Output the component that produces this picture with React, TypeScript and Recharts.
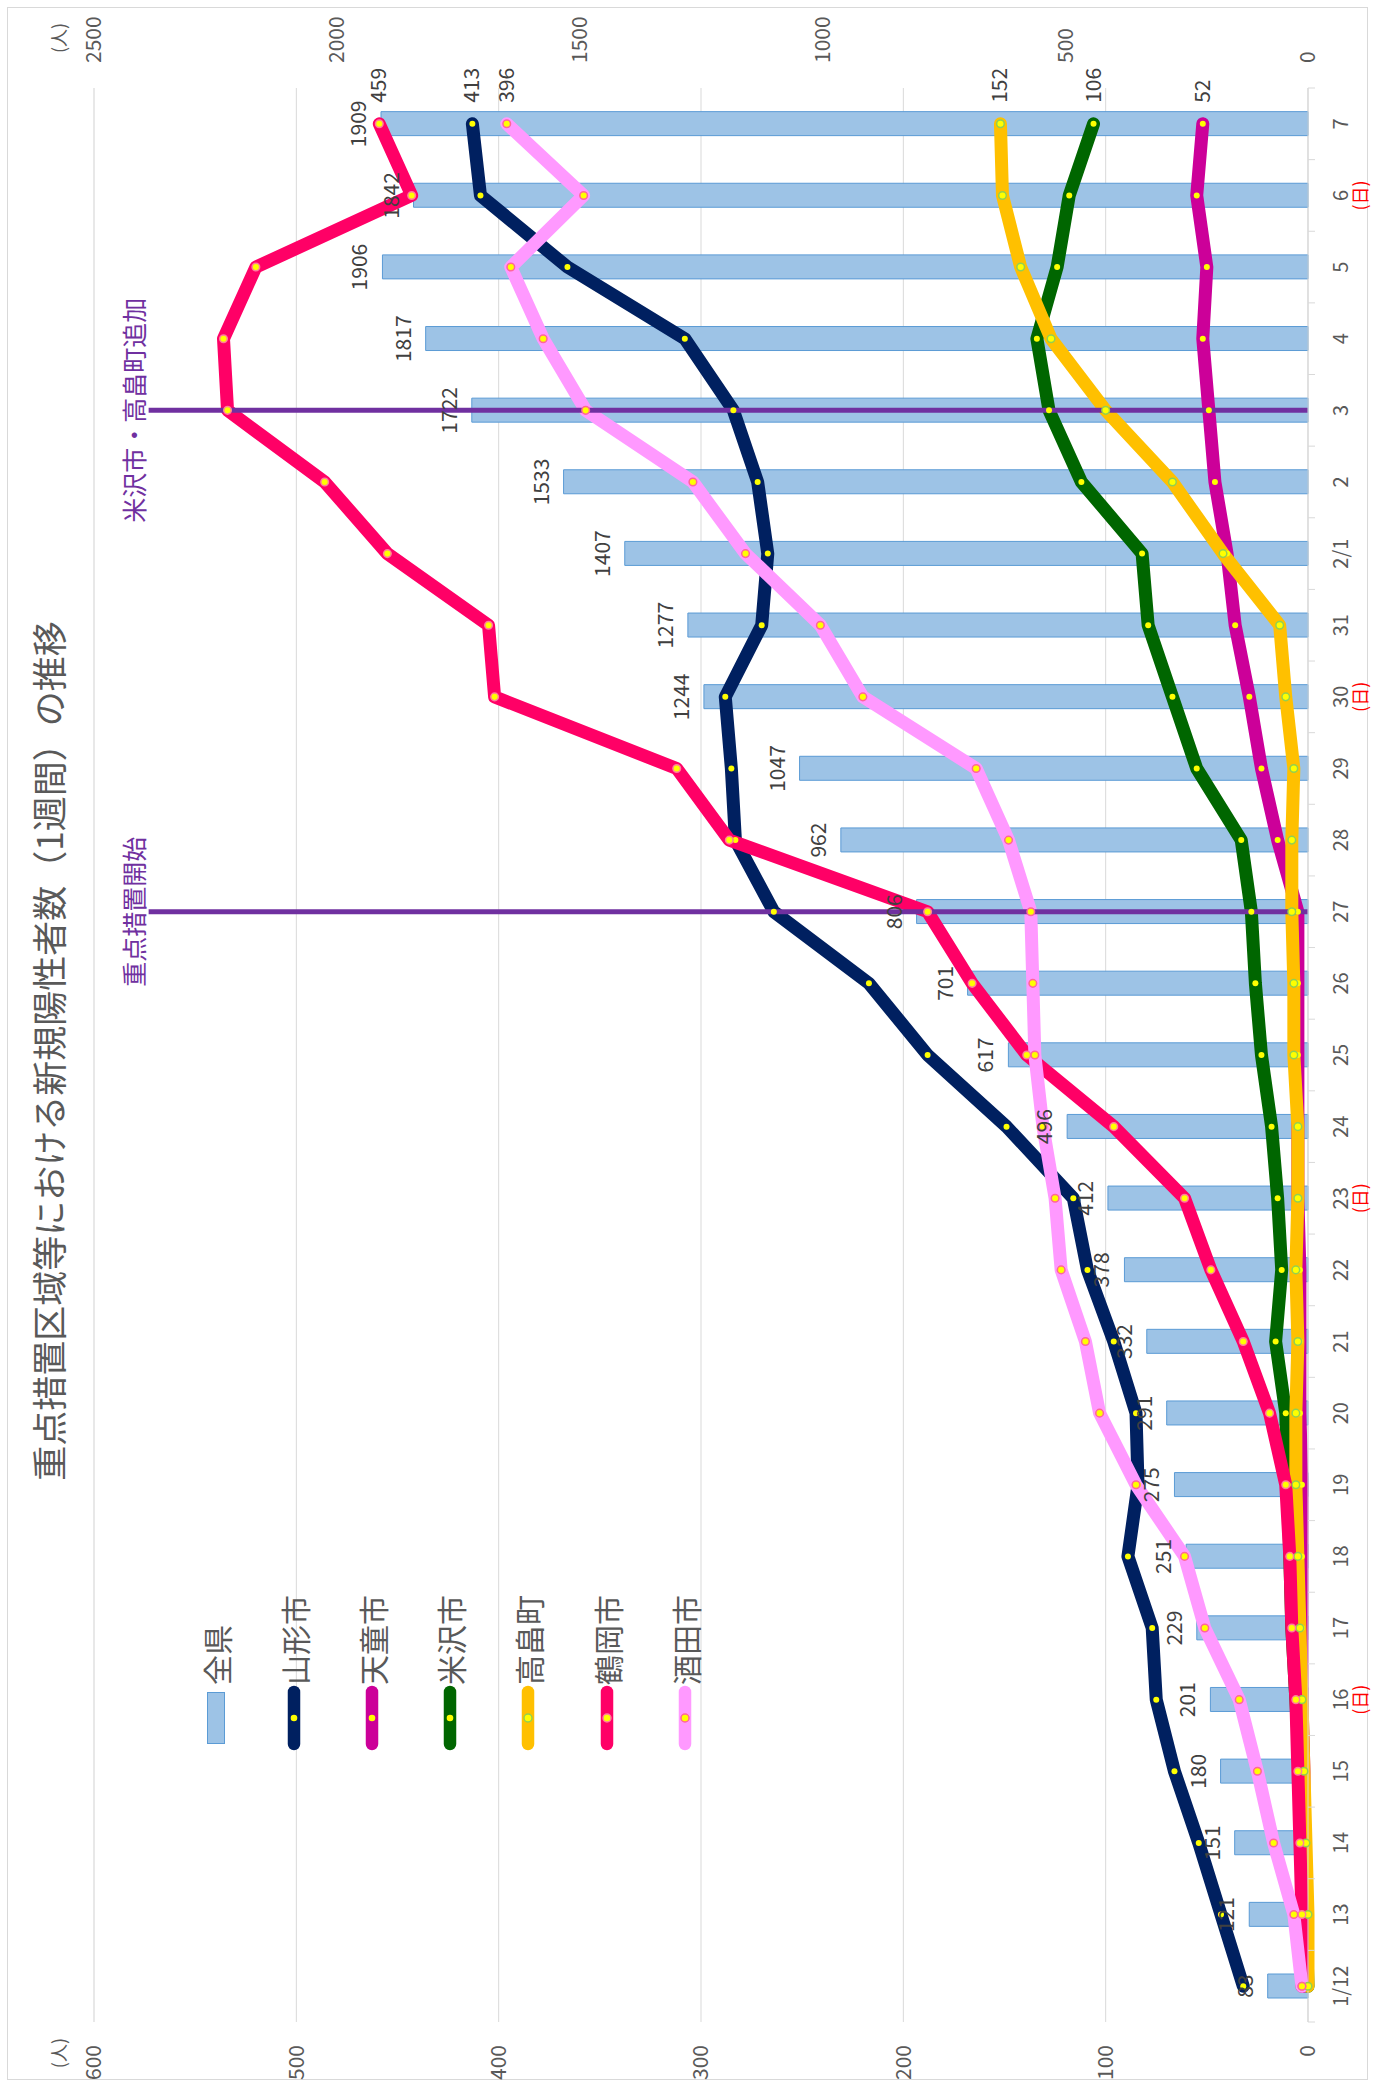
import React from 'react';
import {
  ComposedChart,
  Bar,
  Line,
  XAxis,
  YAxis,
  CartesianGrid,
  ReferenceLine,
  LabelList,
  Legend,
} from 'recharts';

// ---------- data ----------
const dates = ['1/12', '13', '14', '15', '16', '17', '18', '19', '20', '21', '22', '23', '24', '25', '26', '27', '28', '29', '30', '31', '2/1', '2', '3', '4', '5', '6', '7'];
const sundays = ['16', '23', '30', '6'];
const zenken = [83, 121, 151, 180, 201, 229, 251, 275, 291, 332, 378, 412, 496, 617, 701, 806, 962, 1047, 1244, 1277, 1407, 1533, 1722, 1817, 1906, 1842, 1909];
const yamagata = [32, 43, 54, 66, 75, 77, 89, 84, 85, 96, 109, 116, 149, 188, 217, 264, 283, 285, 288, 270, 267, 272, 284, 308, 366, 409, 413];
const tendo = [2, 2, 2, 2, 3, 3, 3, 3, 4, 4, 4, 5, 5, 5, 5, 5, 15, 23, 29, 36, 40, 46, 49, 52, 50, 55, 52];
const yonezawa = [0, 1, 2, 4, 6, 8, 9, 10, 11, 16, 13, 15, 18, 23, 26, 28, 33, 55, 67, 79, 82, 112, 128, 134, 124, 118, 106];
const takahata = [0, 0, 1, 2, 3, 4, 5, 6, 6, 5, 6, 5, 5, 7, 7, 8, 8, 7, 11, 14, 42, 67, 100, 127, 142, 151, 152];
const tsuruoka = [3, 3, 4, 5, 6, 8, 9, 11, 19, 32, 48, 61, 96, 139, 166, 188, 286, 312, 402, 405, 455, 486, 534, 536, 520, 443, 459];
const sakata = [3, 7, 17, 25, 34, 51, 61, 85, 103, 110, 122, 125, 131, 135, 136, 137, 148, 164, 220, 241, 278, 304, 357, 378, 394, 358, 396];

const leftTicks = [0, 100, 200, 300, 400, 500, 600];
const minorTicks = [0, 20, 40, 60, 80, 100, 120, 140, 160, 180, 200, 220, 240, 260, 280, 300, 320, 340, 360, 380, 400, 420, 440, 460, 480, 500, 520, 540, 560, 580, 600];
const rightTicks = [0, 500, 1000, 1500, 2000, 2500];

const title = '重点措置区域等における新規陽性者数（1週間）の推移';
const refStart = { date: '27', top: 573, text: '重点措置開始' };
const refAdd = { date: '3', top: 573, text: '米沢市・高畠町追加' };

const lineSeries = [
  { key: 'yamagata', name: '山形市', color: '#002060', ring: '', values: yamagata },
  { key: 'tendo', name: '天童市', color: '#CC0099', ring: '', values: tendo },
  { key: 'yonezawa', name: '米沢市', color: '#006600', ring: '', values: yonezawa },
  { key: 'takahata', name: '高畠町', color: '#FFC000', ring: '#92D050', values: takahata },
  { key: 'tsuruoka', name: '鶴岡市', color: '#FF0066', ring: '#FF7C9C', values: tsuruoka },
  { key: 'sakata', name: '酒田市', color: '#FF99FF', ring: '#FF6699', values: sakata },
];

const data = dates.map((d, i) => {
  const row: any = { date: d, zenken: zenken[i] };
  lineSeries.forEach((s) => {
    row[s.key] = s.values[i];
  });
  return row;
});

// ---------- layout / style ----------
const W = 2087;
const H = 1373;
const MARGIN = { top: 94, right: 8, bottom: 5, left: 5 };
const LEFT_W = 60;
const RIGHT_W = 80;
const X_H = 60;
const BAND = (W - MARGIN.left - MARGIN.right - LEFT_W - RIGHT_W) / dates.length;
const FONT = '"Noto Sans CJK JP", "Noto Sans", sans-serif';
const TXT = '#595959';
const LABEL_TXT = '#404040';
const GRID_MAJOR = '#d9d9d9';
const GRID_MINOR = '#f0f0f0';
const BAR_FILL = '#9DC3E6';
const BAR_STROKE = '#5B9BD5';
const PURPLE = '#7030A0';

const CategoryTick = (props: any) => {
  const { x, y, payload, index } = props;
  const half = typeof payload?.offset === 'number' && payload.offset > 5 ? payload.offset : BAND / 2;
  const last = index === dates.length - 1;
  return (
    <g>
      <line x1={x - half} y1={y} x2={x - half} y2={y + 7} stroke={GRID_MAJOR} />
      {last && <line x1={x + half} y1={y} x2={x + half} y2={y + 7} stroke={GRID_MAJOR} />}
      <text x={x} y={y + 40} textAnchor="middle" fontSize={20} fill={TXT} fontFamily={FONT}>
        {payload.value}
      </text>
      {sundays.includes(payload.value) && (
        <text x={x} y={y + 59} textAnchor="middle" fontSize={18} fill="#FF0000" fontFamily={FONT}>
          (日)
        </text>
      )}
    </g>
  );
};

const makeEndLabel = (lastIndex: number) => (props: any) => {
  const { index, value } = props;
  if (index !== lastIndex) return null;
  const x = props.x ?? props.viewBox?.x;
  const y = props.y ?? props.viewBox?.y;
  return (
    <text x={x + 21} y={y + 7} fontSize={21} fill={LABEL_TXT} fontFamily={FONT}>
      {value}
    </text>
  );
};

const LegendContent = () => {
  const items = [{ key: 'zenken', name: '全県', color: BAR_FILL, ring: '', bar: true }].concat(
    lineSeries.map((s) => ({ key: s.key, name: s.name, color: s.color, ring: s.ring, bar: false }))
  );
  return (
    <div style={{ display: 'flex', flexDirection: 'column', fontFamily: FONT }}>
      {items.map((it) => (
        <div key={it.key} style={{ height: 78.1, display: 'flex', alignItems: 'center' }}>
          <svg width={66} height={20} style={{ display: 'block' }}>
            {it.bar ? (
              <rect x={7.5} y={1.5} width={51} height={17} fill={BAR_FILL} stroke={BAR_STROKE} strokeWidth={1} />
            ) : (
              <g>
                <line x1={7} y1={10} x2={59} y2={10} stroke={it.color} strokeWidth={12.5} strokeLinecap="round" />
                <circle cx={33} cy={10} r={it.ring ? 4 : 3.3} fill="#FFFF00" stroke={it.ring || 'none'} strokeWidth={1.5} />
              </g>
            )}
          </svg>
          <span style={{ fontSize: 30, color: TXT, lineHeight: 1, whiteSpace: 'nowrap' }}>{it.name}</span>
        </div>
      ))}
    </div>
  );
};

export default function App() {
  return (
    <div style={{ position: 'absolute', left: 0, top: 0, width: 1373, height: 2087, overflow: 'hidden', background: '#fff' }}>
      <div
        style={{
          position: 'absolute',
          left: 0,
          top: 0,
          width: W,
          height: H,
          transformOrigin: '0 0',
          transform: `translate(0px, ${W}px) rotate(-90deg)`,
          fontFamily: FONT,
          background: '#fff',
        }}
      >
        <div
          style={{
            position: 'absolute',
            left: 7,
            top: 7,
            width: W - 14,
            height: H - 12,
            border: `1px solid ${GRID_MAJOR}`,
            boxSizing: 'border-box',
          }}
        />
        <svg width={W} height={H} style={{ position: 'absolute', left: 0, top: 0 }}>
          <text x={1036} y={63} textAnchor="middle" fontSize={35} fill={TXT} fontFamily={FONT}>
            {title}
          </text>
        </svg>
        <div style={{ position: 'absolute', left: 0, top: 0 }}>
          <ComposedChart width={W} height={H} data={data} margin={MARGIN} barSize={24}>
            <CartesianGrid yAxisId="minor" vertical={false} stroke={GRID_MINOR} />
            <CartesianGrid yAxisId="left" vertical={false} stroke={GRID_MAJOR} />
            <XAxis
              dataKey="date"
              interval={0}
              tickLine={false}
              tickSize={0}
              tickMargin={0}
              height={X_H}
              axisLine={{ stroke: GRID_MAJOR }}
              tick={(p: any) => <CategoryTick {...p} />}
            />
            <YAxis
              yAxisId="left"
              domain={[0, 600]}
              ticks={leftTicks}
              width={LEFT_W}
              axisLine={false}
              tickLine={false}
              tickSize={0}
              tickMargin={23}
              tick={{ fontSize: 21, fill: TXT, fontFamily: FONT }}
              label={(lp: any) => {
                const vb = lp.viewBox;
                return (
                  <text x={vb.x + vb.width - 16} y={vb.y - 28} textAnchor="end" fontSize={18} fill={TXT} fontFamily={FONT}>
                    (人)
                  </text>
                );
              }}
            />
            <YAxis yAxisId="minor" domain={[0, 600]} ticks={minorTicks} hide />
            <YAxis
              yAxisId="right"
              orientation="right"
              domain={[0, 2500]}
              ticks={rightTicks}
              width={RIGHT_W}
              axisLine={false}
              tickLine={false}
              tickSize={0}
              tickMargin={25}
              tick={{ fontSize: 21, fill: TXT, fontFamily: FONT }}
              label={(lp: any) => {
                const vb = lp.viewBox;
                return (
                  <text x={vb.x + 35} y={vb.y - 28} textAnchor="start" fontSize={18} fill={TXT} fontFamily={FONT}>
                    (人)
                  </text>
                );
              }}
            />
            <Legend
              layout="vertical"
              align="center"
              verticalAlign="middle"
              wrapperStyle={{ left: 336, top: 177, width: 'auto', height: 'auto' }}
              content={() => <LegendContent />}
            />
            <Bar
              yAxisId="right"
              dataKey="zenken"
              name="全県"
              fill={BAR_FILL}
              stroke={BAR_STROKE}
              strokeWidth={1}
              isAnimationActive={false}
            />
            {lineSeries.map((s) => (
              <Line
                key={s.key}
                yAxisId="left"
                type="linear"
                dataKey={s.key}
                name={s.name}
                stroke={s.color}
                strokeWidth={13}
                strokeLinecap="round"
                strokeLinejoin="round"
                dot={{
                  r: s.ring ? 3.8 : 3,
                  fill: '#FFFF00',
                  stroke: s.ring || 'none',
                  strokeWidth: s.ring ? 1.5 : 0,
                }}
                activeDot={false}
                isAnimationActive={false}
              >
                <LabelList dataKey={s.key} content={makeEndLabel(dates.length - 1)} />
              </Line>
            ))}
            {/* invisible carrier so the bar value labels sit above the lines */}
            <Line
              yAxisId="right"
              dataKey="zenken"
              stroke="none"
              dot={false}
              activeDot={false}
              legendType="none"
              isAnimationActive={false}
            >
              <LabelList dataKey="zenken" position="top" offset={15} fontSize={21} fill={LABEL_TXT} fontFamily={FONT} />
            </Line>
            {[refStart, refAdd].map((r) => (
              <ReferenceLine
                key={r.date}
                yAxisId="left"
                segment={[
                  { x: r.date, y: 0 },
                  { x: r.date, y: r.top },
                ]}
                stroke={PURPLE}
                strokeWidth={5}
                label={{ value: r.text, position: 'top', offset: 5, fontSize: 25, fill: PURPLE, fontFamily: FONT }}
              />
            ))}
          </ComposedChart>
        </div>
      </div>
    </div>
  );
}
